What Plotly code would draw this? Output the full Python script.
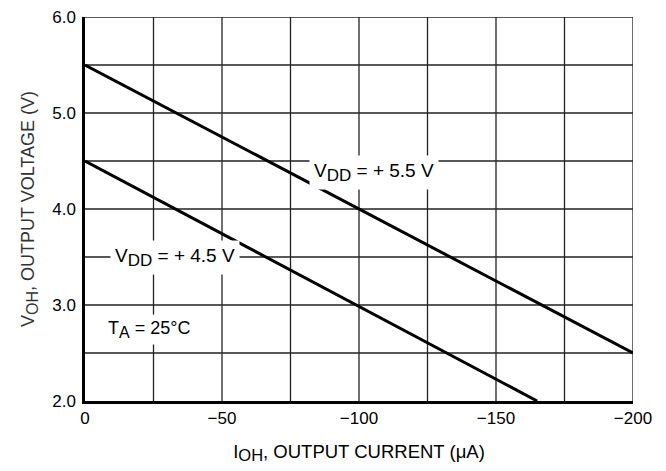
import plotly.graph_objects as go

# Data
current_ua = [0, -200]
vdd55_voh = [5.5, 2.5]
current_ua_45 = [0, -165]
vdd45_voh = [4.5, 2.0]

x_ticks = [0, -50, -100, -150, -200]
x_tick_labels = ["0", "\u221250", "\u2212100", "\u2212150", "\u2212200"]
y_ticks = [2.0, 3.0, 4.0, 5.0, 6.0]
y_tick_labels = ["2.0", "3.0", "4.0", "5.0", "6.0"]
x_grid = [-25, -50, -75, -100, -125, -150, -175, -200]
y_grid = [2.5, 3.0, 3.5, 4.0, 4.5, 5.0, 5.5, 6.0]

FONT = "Liberation Sans Narrow, Arial Narrow, Liberation Sans, Arial, sans-serif"

fig = go.Figure()
fig.add_trace(go.Scatter(x=current_ua, y=vdd55_voh, mode="lines",
                         line=dict(color="black", width=3), showlegend=False))
fig.add_trace(go.Scatter(x=current_ua_45, y=vdd45_voh, mode="lines",
                         line=dict(color="black", width=3), showlegend=False))

grid_shapes = []
for gx in x_grid:
    grid_shapes.append(dict(type="line", xref="x", yref="paper", x0=gx, x1=gx, y0=0, y1=1,
                            line=dict(color="#222", width=1.3), layer="below"))
for gy in y_grid:
    grid_shapes.append(dict(type="line", xref="paper", yref="y", x0=0, x1=1, y0=gy, y1=gy,
                            line=dict(color="#222", width=1.3), layer="below"))

def lab(main, sub, rest, size):
    return f"{main}<sub><span style='font-size:{size - 2}px'>{sub}</span></sub>{rest}"

fig.update_layout(
    width=666, height=471,
    margin=dict(l=77, r=41, t=9, b=78, autoexpand=False),
    paper_bgcolor="white", plot_bgcolor="white",
    font=dict(family=FONT, size=17, color="black"),
    shapes=grid_shapes,
    xaxis=dict(range=[0, -200], tickvals=x_ticks, ticktext=x_tick_labels, automargin=False,
               showgrid=False, zeroline=False, showline=True, linecolor="black", linewidth=2.5,
               ticks="", tickfont=dict(size=17), ticklabeloverflow="allow",
               title=dict(text=lab("I", "OH", ", OUTPUT CURRENT (\u03bcA)", 18.5),
                          font=dict(size=18.5), standoff=18)),
    yaxis=dict(range=[2.0, 6.0], tickvals=y_ticks, ticktext=y_tick_labels, automargin=False,
               showgrid=False, zeroline=False, showline=True, linecolor="black", linewidth=2.5,
               ticks="", tickfont=dict(size=17), ticklabelstandoff=3, ticklabeloverflow="allow",
               title=dict(text=lab("V", "OH", ", OUTPUT VOLTAGE (V)", 18),
                          font=dict(size=18, color="#333"), standoff=13)),
    annotations=[
        dict(x=-105.5, y=4.385, xref="x", yref="y", text=lab("V", "DD", " = + 5.5 V", 19),
             showarrow=False, bgcolor="white", font=dict(size=19), borderpad=4),
        dict(x=-33, y=3.49, xref="x", yref="y", text=lab("V", "DD", " = + 4.5 V", 19),
             showarrow=False, bgcolor="white", font=dict(size=19), borderpad=4),
        dict(x=-23.5, y=2.74, xref="x", yref="y", text=lab("T", "A", " = 25\u00b0C", 18),
             showarrow=False, bgcolor="white", font=dict(size=18), borderpad=3),
    ],
)

fig.write_html("out.html")
